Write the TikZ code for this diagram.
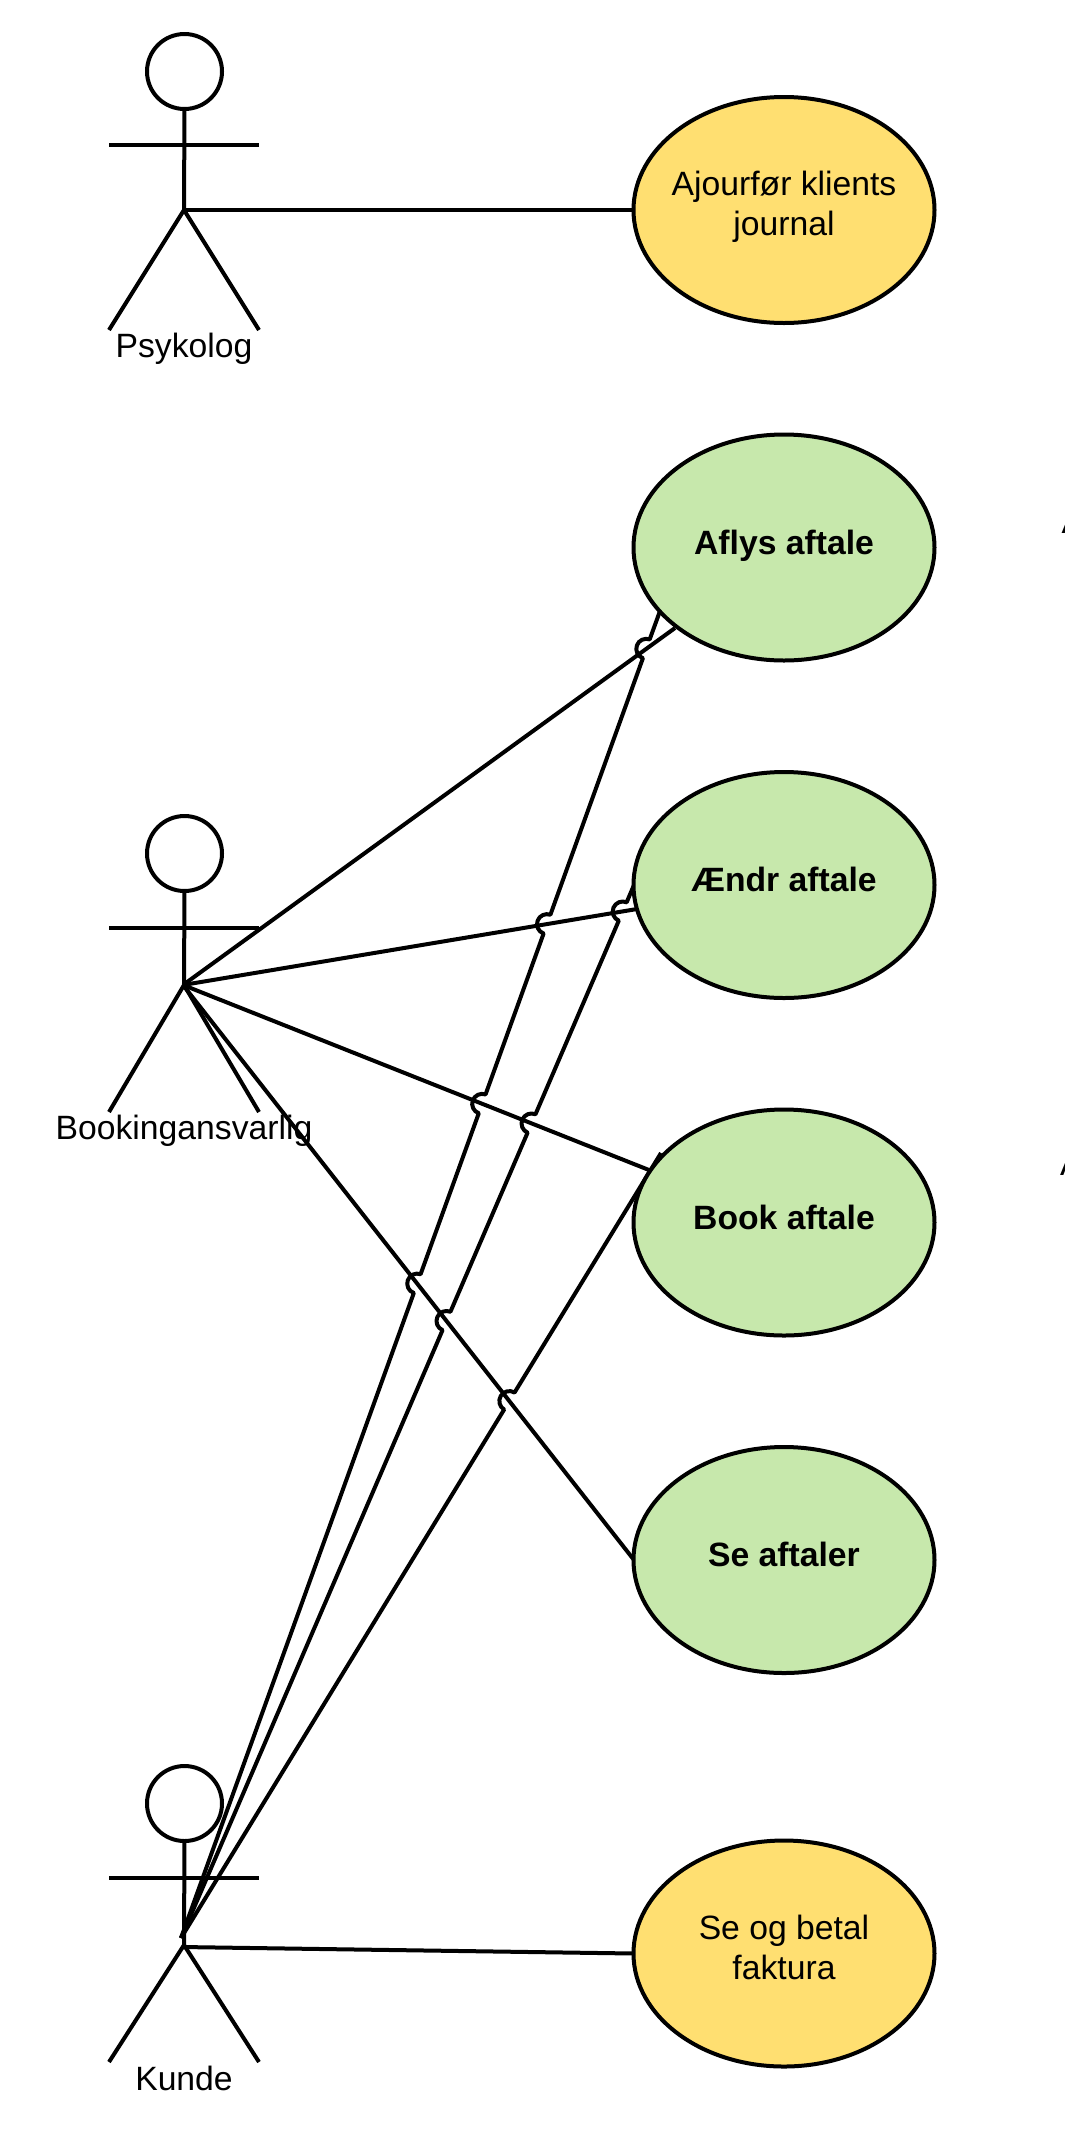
\documentclass[tikz,border=0pt]{standalone}
\usepackage{fontspec}
\setmainfont{Liberation Sans}
\usetikzlibrary{calc,shapes.geometric}
\definecolor{ucgreen}{HTML}{C7E8AC}
\definecolor{ucyellow}{HTML}{FFDF71}
\tikzset{
  stroke/.style={draw=black,line width=4pt,line cap=butt,line join=round},
  conn/.style={stroke},
  usecase/.style={ellipse,stroke,minimum width=301pt,minimum height=226pt,inner sep=0pt,outer sep=0pt},
  head/.style={circle,stroke,minimum size=75pt,inner sep=0pt,outer sep=0pt},
  uctext/.style={inner sep=0pt,anchor=center,align=center,font=\fontsize{33.7pt}{40pt}\selectfont,text depth=0pt},
  one/.style={uctext,text height=13pt},
  two/.style={uctext,text height=50pt},
  actorname/.style={inner sep=0pt,anchor=base,font=\fontsize{33.7pt}{40pt}\selectfont},
}
\newcommand{\stickman}[5]{% name, head y, arm y, hip y, foot y
  \node[head] (#1head) at (184.5,#2) {};
  \coordinate (#1hip) at (184,#4);
  \coordinate (#1armL) at (109,#3);
  \coordinate (#1armR) at (259,#3);
  \coordinate (#1legL) at (109,#5);
  \coordinate (#1legR) at (259,#5);
  \draw[stroke] (#1head.south) -- (#1hip);
  \draw[stroke] (#1armL) -- (#1armR);
  \draw[stroke] (#1legL) -- (#1hip) -- (#1legR);
}
\begin{document}
\begin{tikzpicture}[x=1pt,y=-1pt]
\useasboundingbox[fill=white] (0,0) rectangle (1065,2139);
% actors
\stickman{psy}{71.5}{145}{210}{330}
\stickman{bok}{853.5}{928}{985}{1112}
\stickman{kun}{1803.5}{1877.5}{1945}{2062}
\node[actorname] (psyname) at (184,357.5) {Psykolog};
\node[actorname] (bokname) at (184,1139) {Bookingansvarlig};
\node[actorname] (kunname) at (184,2090) {Kunde};
% clipped text at the right edge
\node[actorname,anchor=base west] (edgeA) at (1061.5,533) {A};
\node[actorname,anchor=base west] (edgeB) at (1060,1175) {A};
% connector ends
\coordinate (bokS) at (183,985);
\coordinate (kunS) at (181,1938);
\coordinate (kunF) at (182,1947);
\coordinate (aflysB) at (675,628);
\coordinate (aendrB) at (637,909);
\coordinate (bookB) at (649,1170);
\coordinate (seB) at (634,1560);
\coordinate (aflysK) at (660,611);
\coordinate (aendrK) at (634,885);
\coordinate (bookK) at (661,1153);
% crossings
\coordinate (a1) at (intersection of kunS--aflysK and bokS--seB);
\coordinate (a2) at (intersection of kunS--aflysK and bokS--bookB);
\coordinate (a3) at (intersection of kunS--aflysK and bokS--aendrB);
\coordinate (a4) at (intersection of kunS--aflysK and bokS--aflysB);
\coordinate (b1) at (intersection of kunS--aendrK and bokS--seB);
\coordinate (b2) at (intersection of kunS--aendrK and bokS--bookB);
\coordinate (b3) at (intersection of kunS--aendrK and bokS--aendrB);
\coordinate (c1) at (intersection of kunS--bookK and bokS--seB);
% connectors
\coordinate (ajourW) at (634,210);
\coordinate (fakturaW) at (634,1953.5);
\draw[conn] (psyhip) -- (ajourW);
\draw[conn] (kunF) -- (fakturaW);
\draw[conn] (bokS) -- (aflysB);
\draw[conn] (bokS) -- (aendrB);
\draw[conn] (bokS) -- (bookB);
\draw[conn] (bokS) -- (seB);
\draw[conn] (kunS)
  -- ($(a1)!10pt!(kunS)$) arc[start angle=250.15,delta angle=-180,radius=10pt]
  -- ($(a2)!10pt!(kunS)$) arc[start angle=250.15,delta angle=-180,radius=10pt]
  -- ($(a3)!10pt!(kunS)$) arc[start angle=250.15,delta angle=-180,radius=10pt]
  -- ($(a4)!10pt!(kunS)$) arc[start angle=250.15,delta angle=-180,radius=10pt]
  -- (aflysK);
\draw[conn] (kunS)
  -- ($(b1)!10pt!(kunS)$) arc[start angle=246.72,delta angle=-180,radius=10pt]
  -- ($(b2)!10pt!(kunS)$) arc[start angle=246.72,delta angle=-180,radius=10pt]
  -- ($(b3)!10pt!(kunS)$) arc[start angle=246.72,delta angle=-180,radius=10pt]
  -- (aendrK);
\draw[conn] (kunS)
  -- ($(c1)!10pt!(kunS)$) arc[start angle=238.55,delta angle=-180,radius=10pt]
  -- (bookK);
% use cases
\node[usecase,fill=ucyellow] (ajour) at (784,210) {};
\node[usecase,fill=ucgreen] (aflys) at (784,547.5) {};
\node[usecase,fill=ucgreen] (aendr) at (784,885) {};
\node[usecase,fill=ucgreen] (book) at (784,1222.5) {};
\node[usecase,fill=ucgreen] (se) at (784,1560) {};
\node[usecase,fill=ucyellow] (faktura) at (784,1953.5) {};
\node[two] (ajourT) at (ajour.center) {Ajourfør klients\\journal};
\node[one] (aflysT) at (aflys.center) {\bfseries Aflys aftale};
\node[one] (aendrT) at (aendr.center) {\bfseries Ændr aftale};
\node[one] (bookT) at (book.center) {\bfseries Book aftale};
\node[one] (seT) at (se.center) {\bfseries Se aftaler};
\node[two] (fakturaT) at ([yshift=-1pt]faktura.center) {Se og betal\\faktura};
\end{tikzpicture}
\end{document}
